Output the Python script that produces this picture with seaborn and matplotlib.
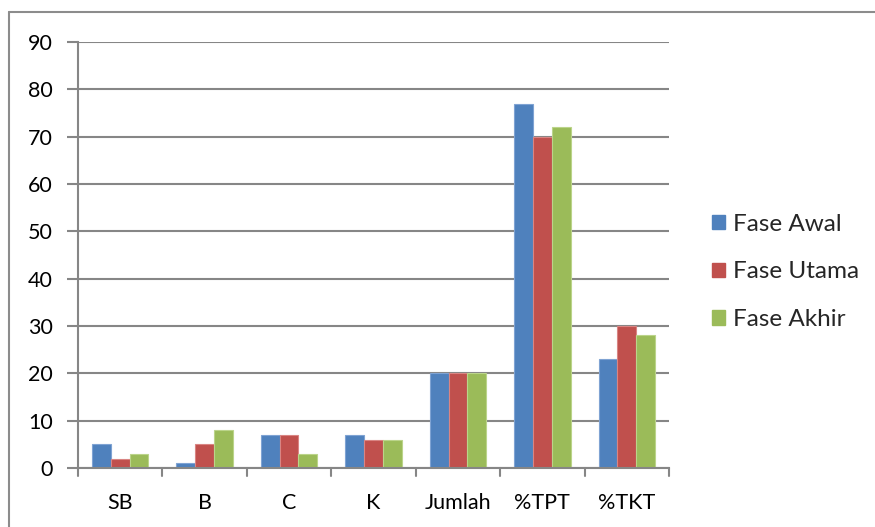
import numpy as np
import pandas as pd
import matplotlib
matplotlib.use("Agg")
import matplotlib.pyplot as plt
import seaborn as sns
from matplotlib.lines import Line2D
from matplotlib.patches import Patch

categories = ["SB", "B", "C", "K", "Jumlah", "%TPT", "%TKT"]
fase_awal = [5, 1, 7, 7, 20, 77, 23]
fase_utama = [2, 5, 7, 6, 20, 70, 30]
fase_akhir = [3, 8, 3, 6, 20, 72, 28]
series_names = ["Fase Awal", "Fase Utama", "Fase Akhir"]
colors = ["#4F81BD", "#C0504D", "#9BBB59"]
edge_colors = ["#7FA3D3", "#D98583", "#BBD48A"]
y_ticks = [0, 10, 20, 30, 40, 50, 60, 70, 80, 90]

rows = []
for name, vals in zip(series_names, [fase_awal, fase_utama, fase_akhir]):
    for cat, v in zip(categories, vals):
        rows.append({"kategori": cat, "nilai": v, "fase": name})
df = pd.DataFrame(rows)

sns.set_theme(style="white")
plt.rcParams["font.family"] = ["Lato", "DejaVu Sans"]

fig = plt.figure(figsize=(8.75, 5.27), dpi=100)
ax = fig.add_axes([78 / 875, 1 - 468 / 527, (669 - 78) / 875, (468 - 42) / 527])

sns.barplot(data=df, x="kategori", y="nilai", hue="fase", order=categories,
            hue_order=series_names, palette=colors, width=0.67, ax=ax,
            errorbar=None, legend=False, linewidth=0.8, saturation=1)

# lighter outline per series
for container, ec in zip(ax.containers, edge_colors):
    for bar in container:
        bar.set_edgecolor(ec)

grid_col = "#868686"
fs = 15.5
ax.set_ylim(0, 90)
ax.set_xlim(-0.5, len(categories) - 0.5)
ax.set_yticks(y_ticks)
ax.set_yticklabels([str(t) for t in y_ticks], fontsize=fs, color="black")
ax.yaxis.grid(True, color=grid_col, linewidth=1.5)
ax.set_axisbelow(True)

# category boundary ticks on the x axis
ax.set_xticks(np.arange(len(categories)))
ax.set_xticklabels(categories, fontsize=fs, color="black")
ax.tick_params(axis="x", length=0, pad=18)
for b in np.arange(-0.5, len(categories), 1.0):
    ax.add_line(Line2D([b, b], [0, -1.7], color=grid_col, linewidth=1.5,
                       clip_on=False, transform=ax.transData))
ax.tick_params(axis="y", length=8, width=1.5, color=grid_col, left=True, pad=10)

for s in ["top", "right"]:
    ax.spines[s].set_visible(False)
for s in ["left", "bottom"]:
    ax.spines[s].set_color(grid_col)
    ax.spines[s].set_linewidth(1.5)
ax.set_xlabel("")
ax.set_ylabel("")

handles = [Patch(facecolor=c, edgecolor=c) for c in colors]
fig.legend(handles, series_names, loc="center left",
           bbox_to_anchor=(690 / 875, 1 - 272 / 527), frameon=False,
           fontsize=17.5, handlelength=0.55, handleheight=0.55,
           handletextpad=0.3, labelspacing=1.1)

# outer chart frame
frame_col = "#8C8C8C"
fig.add_artist(Line2D([9 / 875, 1.0], [1 - 12 / 527, 1 - 12 / 527],
                      color=frame_col, linewidth=1.5, transform=fig.transFigure))
fig.add_artist(Line2D([9 / 875, 9 / 875], [0, 1 - 12 / 527],
                      color=frame_col, linewidth=1.5, transform=fig.transFigure))

fig.savefig("out.png", dpi=100)
